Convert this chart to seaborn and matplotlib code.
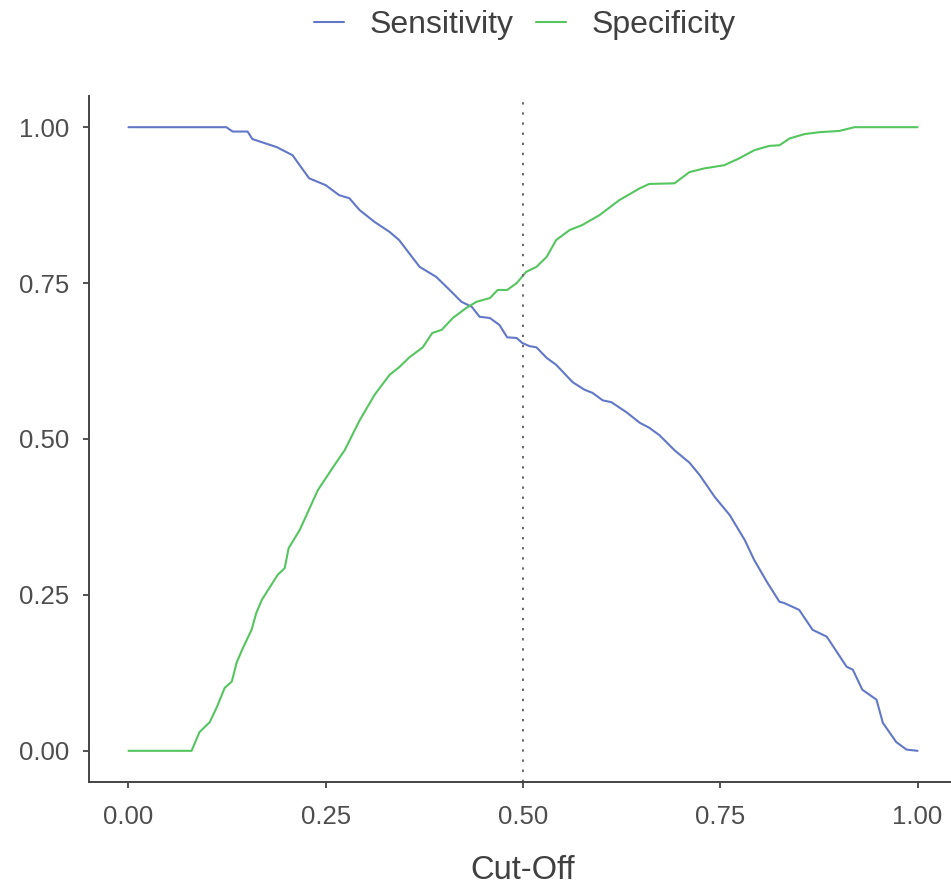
import matplotlib
matplotlib.use("Agg")
import matplotlib.pyplot as plt
import seaborn as sns
import pandas as pd

# Values
sens_cut = [0, 0.124, 0.132, 0.151, 0.157, 0.188, 0.208, 0.217, 0.229, 0.250, 0.267,
            0.280, 0.293, 0.312, 0.331, 0.343, 0.369, 0.390, 0.407, 0.422, 0.435,
            0.445, 0.458, 0.470, 0.480, 0.492, 0.499, 0.508, 0.517, 0.530, 0.542,
            0.563, 0.578, 0.588, 0.601, 0.612, 0.631, 0.648, 0.660, 0.673, 0.692,
            0.711, 0.724, 0.743, 0.762, 0.781, 0.793, 0.810, 0.825, 0.831, 0.850,
            0.867, 0.885, 0.910, 0.918, 0.930, 0.948, 0.956, 0.973, 0.986, 1.0]
sensitivity = [1.0, 1.0, 0.993, 0.993, 0.981, 0.968, 0.955, 0.939, 0.918, 0.907, 0.891,
               0.886, 0.867, 0.848, 0.832, 0.819, 0.776, 0.760, 0.739, 0.720, 0.712,
               0.696, 0.694, 0.683, 0.663, 0.662, 0.654, 0.649, 0.647, 0.630, 0.619,
               0.591, 0.579, 0.574, 0.562, 0.559, 0.543, 0.526, 0.518, 0.506, 0.482,
               0.462, 0.442, 0.407, 0.378, 0.338, 0.306, 0.269, 0.239, 0.237, 0.226,
               0.194, 0.183, 0.135, 0.130, 0.098, 0.082, 0.045, 0.014, 0.002, 0.0]

spec_cut = [0, 0.080, 0.090, 0.103, 0.112, 0.122, 0.131, 0.137, 0.144, 0.156, 0.162,
            0.169, 0.189, 0.198, 0.203, 0.217, 0.240, 0.261, 0.274, 0.293, 0.312,
            0.331, 0.343, 0.356, 0.373, 0.385, 0.397, 0.411, 0.428, 0.441, 0.458,
            0.468, 0.480, 0.492, 0.504, 0.517, 0.530, 0.542, 0.559, 0.575, 0.597,
            0.622, 0.648, 0.660, 0.692, 0.711, 0.730, 0.755, 0.774, 0.793, 0.812,
            0.825, 0.838, 0.857, 0.876, 0.901, 0.920, 1.0]
specificity = [0.0, 0.0, 0.030, 0.046, 0.070, 0.101, 0.111, 0.141, 0.162, 0.194, 0.221,
               0.242, 0.282, 0.293, 0.325, 0.354, 0.418, 0.458, 0.482, 0.530, 0.571,
               0.603, 0.615, 0.631, 0.647, 0.670, 0.675, 0.694, 0.710, 0.720, 0.726,
               0.739, 0.739, 0.750, 0.768, 0.776, 0.792, 0.819, 0.835, 0.843, 0.859,
               0.883, 0.902, 0.909, 0.910, 0.928, 0.934, 0.939, 0.950, 0.963, 0.970,
               0.971, 0.982, 0.989, 0.992, 0.994, 1.0, 1.0]

cutoff_marker = 0.5
xticks = [0.0, 0.25, 0.5, 0.75, 1.0]
yticks = [0.0, 0.25, 0.5, 0.75, 1.0]

df = pd.concat([
    pd.DataFrame({"cutoff": sens_cut, "value": sensitivity, "metric": "Sensitivity"}),
    pd.DataFrame({"cutoff": spec_cut, "value": specificity, "metric": "Specificity"}),
])

sns.set_style("ticks")
plt.rcParams["font.family"] = ["Liberation Sans", "DejaVu Sans"]

fig = plt.figure(figsize=(9.51, 8.85), dpi=100)
ax = fig.add_axes([89 / 951, 1 - 782 / 885, 868 / 951, 686 / 885])

palette = {"Sensitivity": "#6277C6", "Specificity": "#55C55F"}
sns.lineplot(data=df, x="cutoff", y="value", hue="metric", palette=palette,
             linewidth=1.5, ax=ax, estimator=None, sort=False)

ax.axvline(cutoff_marker, color="#666666", linestyle=(0, (1.2, 4)), linewidth=1.4)

ax.set_xlim(-0.05, 1.05)
ax.set_ylim(-0.05, 1.05)
ax.set_xticks(xticks)
ax.set_yticks(yticks)
ax.set_xticklabels([f"{t:.2f}" for t in xticks])
ax.set_yticklabels([f"{t:.2f}" for t in yticks])
ax.tick_params(labelsize=18.5, labelcolor="#4d4d4d", color="#444444",
               length=4.5, width=1.3)
ax.tick_params(axis="x", pad=12)
ax.tick_params(axis="y", pad=9.5)
ax.set_xlabel("Cut-Off", fontsize=23.5, color="#404040", labelpad=19)
ax.set_ylabel("")
for side in ["left", "bottom"]:
    ax.spines[side].set_color("#444444")
    ax.spines[side].set_linewidth(1.4)
sns.despine(ax=ax)

handles, labels = ax.get_legend_handles_labels()
ax.legend_.remove()
fig.legend(handles, labels, loc="center", bbox_to_anchor=(0.552, 0.972), ncol=2,
           frameon=False, fontsize=23, handlelength=0.95, handletextpad=0.8,
           columnspacing=0.7, labelcolor="#404040")

fig.savefig("out.png", dpi=100)
